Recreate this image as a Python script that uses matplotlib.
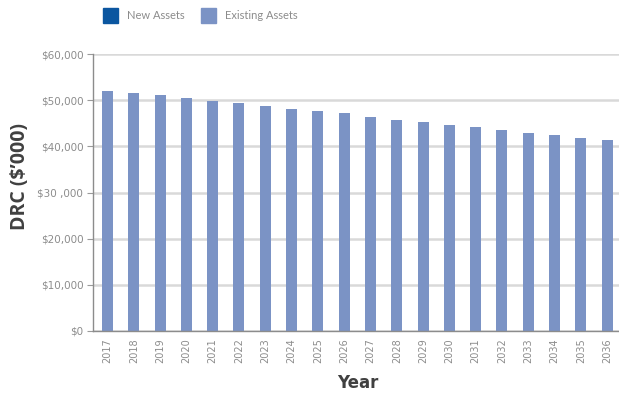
import matplotlib
matplotlib.use("Agg")
import matplotlib.pyplot as plt
from matplotlib.patches import Rectangle

years = [str(y) for y in range(2017, 2037)]
existing_assets = [52.0, 51.5, 51.1, 50.5, 49.8, 49.4, 48.7, 48.1, 47.6, 47.2,
                   46.4, 45.7, 45.3, 44.6, 44.2, 43.5, 42.9, 42.5, 41.8, 41.4]
new_assets = [0.0] * 20
y_ticks = [0, 10, 20, 30, 40, 50, 60]
y_tick_labels = ["$0", "$10,000", "$20,000", "$30 ,000", "$40,000", "$50,000", "$60,000"]

plt.rcParams['font.family'] = ['Lato', 'DejaVu Sans']

W, H = 619, 394
fig = plt.figure(figsize=(W / 100, H / 100), dpi=100)
ax = fig.add_axes([93 / W, (H - 331) / H, (619 - 93) / W, (331 - 54) / H])

existing_color = "#7b93c5"
new_color = "#0b56a0"
text_gray = "#8c8c8c"

x = list(range(len(years)))
ax.bar(x, new_assets, width=0.42, color=new_color, zorder=3)
ax.bar(x, existing_assets, bottom=new_assets, width=0.42, color=existing_color, zorder=3)

ax.set_xlim(-0.55, 19.45)
ax.set_ylim(0, 60)
ax.set_yticks(y_ticks)
ax.set_yticklabels(y_tick_labels, color=text_gray, fontsize=7.5, family=['DejaVu Sans'])
ax.set_xticks(x)
ax.set_xticklabels(years, rotation=90, color=text_gray, fontsize=7, family=['DejaVu Sans'])
ax.tick_params(axis='x', length=0, pad=5)
ax.tick_params(axis='y', length=4, color="#9a9a9a", width=0.8, pad=3)

ax.grid(axis='y', color="#d9d9d9", linewidth=1.8, zorder=0)
ax.set_axisbelow(True)
for side in ("top", "right"):
    ax.spines[side].set_visible(False)
for side in ("left", "bottom"):
    ax.spines[side].set_color("#8c8c8c")
    ax.spines[side].set_linewidth(1.0)
    ax.spines[side].set_zorder(4)

fig.text(20 / W, 1 - 176 / H, "DRC ($’000)", rotation=90, ha='center', va='center',
         fontsize=14, fontweight='bold', color="#404040", family=['Open Sans', 'DejaVu Sans'])
fig.text(358 / W, 1 - 383 / H, "Year", ha='center', va='center',
         fontsize=12, fontweight='bold', color="#404040", family=['DejaVu Sans'])

# legend at the top
for x0, color, label in [(103, new_color, "New Assets"), (201, existing_color, "Existing Assets")]:
    fig.patches.append(Rectangle((x0 / W, 1 - 23 / H), 15 / W, 15 / H,
                                 transform=fig.transFigure, color=color))
    fig.text((x0 + 24) / W, 1 - 15.5 / H, label, ha='left', va='center',
             fontsize=8, color=text_gray)

fig.savefig("out.png", dpi=100)
